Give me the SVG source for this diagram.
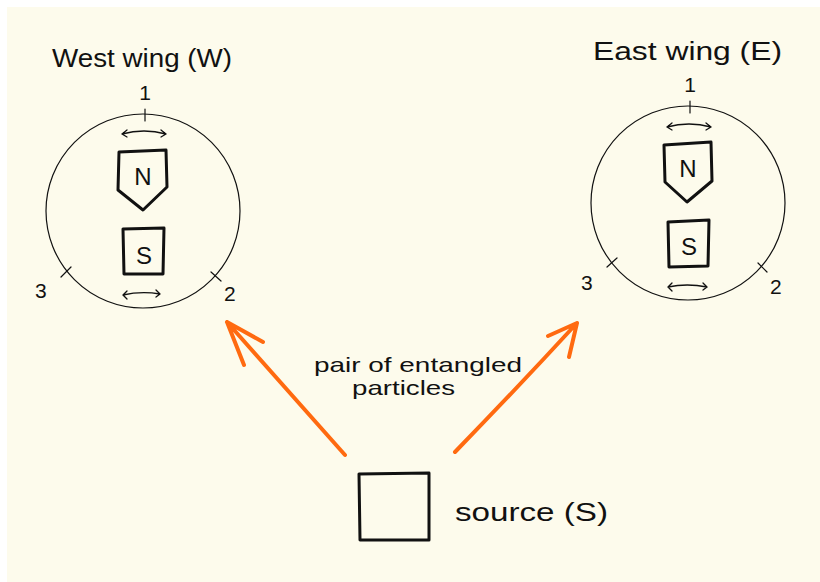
<svg xmlns="http://www.w3.org/2000/svg" width="820" height="582" viewBox="0 0 820 582">
<defs>
<style>
.ink{fill:none;stroke:#111;stroke-linecap:round;stroke-linejoin:round}
.thin{stroke-width:1.2}
.box{stroke-width:3}
.arr{stroke-width:1.3}
.beam{fill:none;stroke:#ff6a10;stroke-width:4;stroke-linecap:round;stroke-linejoin:round}
text{font-family:"Liberation Sans","DejaVu Sans",sans-serif;fill:#111}
.title{font-size:25px}
.lbl{font-size:21px}
.pole{font-size:24px;text-anchor:middle}
</style>
</defs>
<rect x="0" y="0" width="820" height="582" fill="#ffffff"/>
<rect x="7" y="7" width="813" height="575" fill="#fdfbec"/>

<g id="west">
<text class="title" x="52" y="67" textLength="180" lengthAdjust="spacingAndGlyphs">West wing (W)</text>
<circle class="ink thin" cx="143" cy="211" r="97"/>
<path class="ink thin" d="M145 109 V121 M61 277 L71 267 M211 272 L221 281"/>
<text class="lbl" x="145" y="100" text-anchor="middle">1</text>
<text class="lbl" x="35" y="298">3</text>
<text class="lbl" x="224" y="301">2</text>
<path class="ink arr" d="M122 134 Q144 128 166 134 M127 130 L122 134 L127 137 M161 130 L166 134 L161 137"/>
<path class="ink box" d="M119 152 L166 150 L167 187 L143 210 L118 190 Z"/>
<text class="pole" x="143" y="185">N</text>
<path class="ink box" d="M123 229 L164 228 L163 274 L124 274 Z"/>
<text class="pole" x="144" y="264">S</text>
<path class="ink arr" d="M123 295 Q141 291 160 294 M127 291 L123 295 L127 299 M156 290 L160 294 L156 297"/>
</g>

<g id="east">
<text class="title" x="593" y="60" textLength="189" lengthAdjust="spacingAndGlyphs">East wing (E)</text>
<circle class="ink thin" cx="688" cy="203" r="97"/>
<path class="ink thin" d="M690 101 V113 M607 267 L617 258 M758 263 L767 272"/>
<text class="lbl" x="690" y="92" text-anchor="middle">1</text>
<text class="lbl" x="581" y="290">3</text>
<text class="lbl" x="770" y="294">2</text>
<path class="ink arr" d="M667 127 Q689 121 711 127 M672 123 L667 127 L672 130 M706 123 L711 127 L706 130"/>
<path class="ink box" d="M664 145 L711 142 L712 181 L687 202 L665 182 Z"/>
<text class="pole" x="688" y="177">N</text>
<path class="ink box" d="M668 222 L709 220 L708 266 L669 267 Z"/>
<text class="pole" x="689" y="255">S</text>
<path class="ink arr" d="M668 287 Q687 283 707 287 M672 283 L668 287 L672 291 M703 283 L707 287 L703 290"/>
</g>

<g id="source">
<path class="ink box" d="M359 474 L429 473 L429 540 L360 540 Z"/>
<text class="title" x="455" y="521" textLength="153" lengthAdjust="spacingAndGlyphs">source (S)</text>
</g>

<g id="connectors">
<path class="beam" d="M345 455 L227 322 M227 322 L263 342 M227 322 L244 365"/>
<path class="beam" d="M455 452 Q520 385 577 323 M577 323 L548 336 M577 323 L569 357"/>
<text class="lbl" x="314" y="372" textLength="208" lengthAdjust="spacingAndGlyphs">pair of entangled</text>
<text class="lbl" x="352" y="395" textLength="103" lengthAdjust="spacingAndGlyphs">particles</text>
</g>
</svg>
